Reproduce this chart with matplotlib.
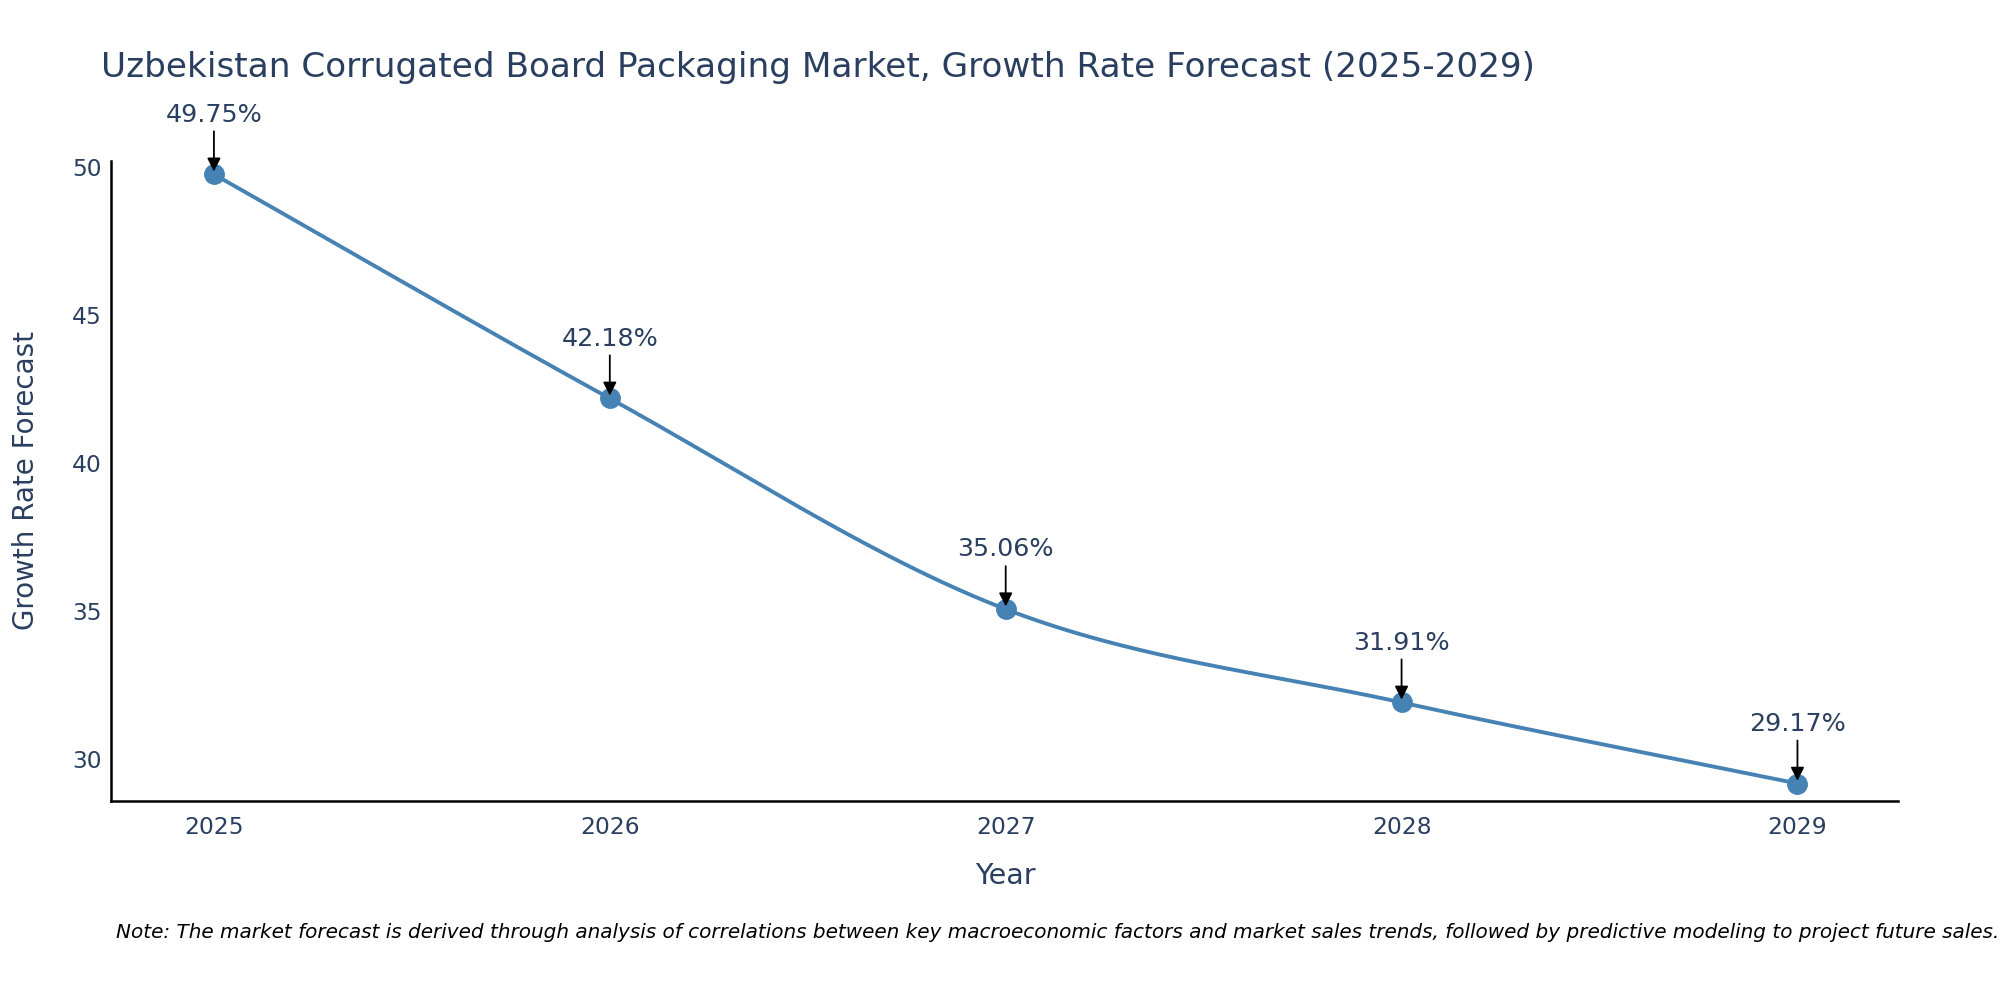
import matplotlib
matplotlib.use("Agg")
import matplotlib.pyplot as plt
import numpy as np

years = [2025, 2026, 2027, 2028, 2029]
growth = [49.75, 42.18, 35.06, 31.91, 29.17]
labels = ["49.75%", "42.18%", "35.06%", "31.91%", "29.17%"]

title = "Uzbekistan Corrugated Board Packaging Market, Growth Rate Forecast (2025-2029)"
note = ("Note: The market forecast is derived through analysis of correlations between key macroeconomic "
        "factors and market sales trends, followed by predictive modeling to project future sales.")

text_col = "#2a3f5f"
line_col = "#4682B4"
plt.rcParams["font.family"] = ["DejaVu Sans"]


def smooth(xs, ys, n=60):
    # catmull-rom through the data points, like plotly's spline shape
    xs = np.asarray(xs, float)
    ys = np.asarray(ys, float)
    px = np.concatenate([[2 * xs[0] - xs[1]], xs, [2 * xs[-1] - xs[-2]]])
    py = np.concatenate([[2 * ys[0] - ys[1]], ys, [2 * ys[-1] - ys[-2]]])
    ox, oy = [], []
    t = np.linspace(0, 1, n)
    for i in range(1, len(px) - 2):
        for p, out in ((px, ox), (py, oy)):
            p0, p1, p2, p3 = p[i - 1], p[i], p[i + 1], p[i + 2]
            out.extend(0.5 * (2 * p1 + (-p0 + p2) * t + (2 * p0 - 5 * p1 + 4 * p2 - p3) * t ** 2
                              + (-p0 + 3 * p1 - 3 * p2 + p3) * t ** 3))
    return ox, oy


fig = plt.figure(figsize=(20, 10), dpi=100)
ax = fig.add_axes([0.0555, 0.199, 0.8935, 0.64])

sx, sy = smooth(years, growth)
ax.plot(sx, sy, color=line_col, lw=2.8, zorder=2)
ax.plot(years, growth, "o", color=line_col, ms=14, zorder=3)

for x, y, lab in zip(years, growth, labels):
    ax.annotate("", xy=(x, y), xytext=(0, 31), textcoords="offset points",
                arrowprops=dict(arrowstyle="-|>", color="black", lw=1.3,
                                shrinkA=0, shrinkB=2, mutation_scale=20), zorder=4)
    ax.annotate(lab, xy=(x, y), xytext=(0, 43), textcoords="offset points",
                ha="center", va="center", fontsize=18.3, color=text_col)

ax.set_xlim(2024.74, 2029.254)
ax.set_ylim(28.58, 50.2)
ax.set_xticks(years)
ax.set_yticks([30, 35, 40, 45, 50])
ax.tick_params(length=0, labelsize=16.8, labelcolor=text_col, pad=10.5)
ax.tick_params(axis="y", pad=7)
for s in ["top", "right"]:
    ax.spines[s].set_visible(False)
for s in ["left", "bottom"]:
    ax.spines[s].set_linewidth(1.8)
    ax.spines[s].set_color("black")

fig.text(0.0505, 0.932, title, fontsize=24.7, color=text_col, va="center", ha="left")
fig.text(0.5025, 0.124, "Year", fontsize=20.5, color=text_col, ha="center", va="center")
fig.text(0.013, 0.52, "Growth Rate Forecast", fontsize=20, color=text_col,
         ha="center", va="center", rotation=90)
fig.text(0.058, 0.068, note, fontsize=14.4, style="italic", color="black", ha="left", va="center")

fig.savefig("out.png", dpi=100)
